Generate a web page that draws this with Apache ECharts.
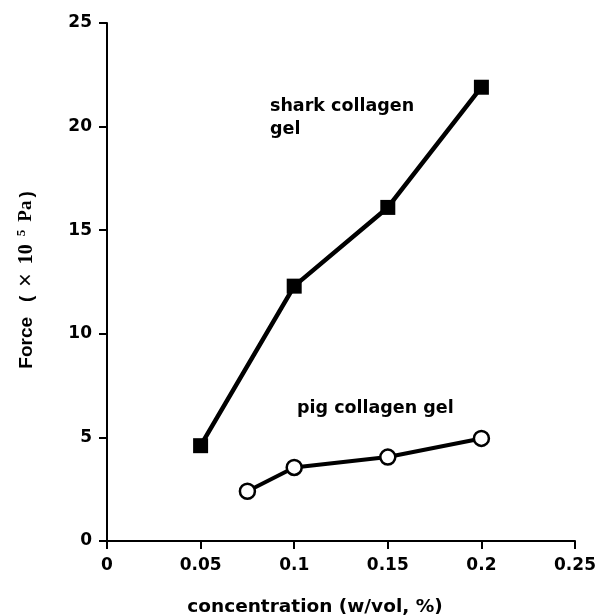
<!DOCTYPE html>
<html>
<head>
<meta charset="utf-8">
<script src="https://cdn.jsdelivr.net/npm/echarts@6/dist/echarts.min.js"></script>
<style>
  html, body { margin: 0; padding: 0; background: #fff; }
  #chart { width: 599px; height: 616px; }
</style>
</head>
<body>
<div id="chart"></div>
<script>
// concentration (w/vol, %) vs force (x10^5 Pa)
const sharkConc = [0.05, 0.1, 0.15, 0.2]
const sharkForce = [4.6, 12.3, 16.1, 21.9]
const pigConc = [0.075, 0.1, 0.15, 0.2]
const pigForce = [2.4, 3.55, 4.05, 4.95]

const wide = '"DejaVu Sans", Verdana, sans-serif'
const narrow = '"Liberation Sans", Arial, sans-serif'
const serif = '"Liberation Serif", "Times New Roman", serif'

const chart = echarts.init(document.getElementById('chart'))

chart.setOption({
  backgroundColor: '#fff',
  animation: false,
  grid: { left: 107, right: 24, top: 23, bottom: 75, outerBoundsMode: 'none', containLabel: false },
  xAxis: {
    type: 'value',
    min: 0,
    max: 0.25,
    interval: 0.05,
    name: 'concentration (w/vol, %)',
    nameLocation: 'middle',
    nameGap: 57,
    nameTextStyle: { fontFamily: wide, fontWeight: 'bold', fontSize: 18.5, color: '#000', padding: [0, 52, 0, 0] },
    axisLine: { lineStyle: { color: '#000', width: 2 } },
    axisTick: { length: 8, lineStyle: { color: '#000', width: 2 } },
    axisLabel: {
      fontFamily: wide, fontWeight: 'bold', fontSize: 17, color: '#000', margin: 16,
      formatter: v => String(+v.toFixed(2))
    },
    splitLine: { show: false }
  },
  yAxis: {
    type: 'value',
    min: 0,
    max: 25,
    interval: 5,
    name: '{f|Force}{p|(}{x|×}{t|10}{s|5}{u|Pa}{q|)}',
    nameLocation: 'middle',
    nameGap: 69,
    nameRotate: 90,
    nameTextStyle: {
      padding: [0, 0, 0, 4],
      rich: {
        f: { fontFamily: narrow, fontWeight: 'bold', fontSize: 19, color: '#000' },
        p: { fontFamily: narrow, fontWeight: 'bold', fontSize: 19, color: '#000', padding: [0, 0, 0, 15] },
        x: { fontFamily: narrow, fontSize: 23, color: '#000', padding: [0, 0, 0, 9] },
        t: { fontFamily: serif, fontWeight: 'bold', fontSize: 20, color: '#000', padding: [0, 0, 0, 9] },
        s: { fontFamily: serif, fontWeight: 'bold', fontSize: 13, color: '#000', verticalAlign: 'top', padding: [0, 0, 0, 8] },
        u: { fontFamily: serif, fontWeight: 'bold', fontSize: 19, color: '#000', padding: [0, 0, 0, 8] },
        q: { fontFamily: narrow, fontWeight: 'bold', fontSize: 19, color: '#000', padding: [0, 0, 0, 3] }
      }
    },
    axisLine: { show: true, lineStyle: { color: '#000', width: 2 } },
    axisTick: { show: true, length: 8, lineStyle: { color: '#000', width: 2 } },
    axisLabel: { fontFamily: wide, fontWeight: 'bold', fontSize: 17, color: '#000', margin: 15 },
    splitLine: { show: false }
  },
  graphic: [
    {
      type: 'text', left: 270, top: 95,
      style: { text: 'shark collagen\ngel', font: 'bold 17.5px ' + wide, fill: '#000', lineHeight: 23 }
    },
    {
      type: 'text', left: 297, top: 399,
      style: { text: 'pig collagen gel', font: 'bold 17.5px ' + wide, fill: '#000' }
    }
  ],
  series: [
    {
      type: 'line',
      data: sharkConc.map((c, i) => [c, sharkForce[i]]),
      symbol: 'rect',
      symbolSize: 15,
      lineStyle: { color: '#000', width: 4.5 },
      itemStyle: { color: '#000' }
    },
    {
      type: 'line',
      data: pigConc.map((c, i) => [c, pigForce[i]]),
      symbol: 'circle',
      symbolSize: 15,
      showAllSymbol: true,
      lineStyle: { color: '#000', width: 4 },
      itemStyle: { color: '#fff', borderColor: '#000', borderWidth: 2.5 }
    }
  ]
})
</script>
</body>
</html>
